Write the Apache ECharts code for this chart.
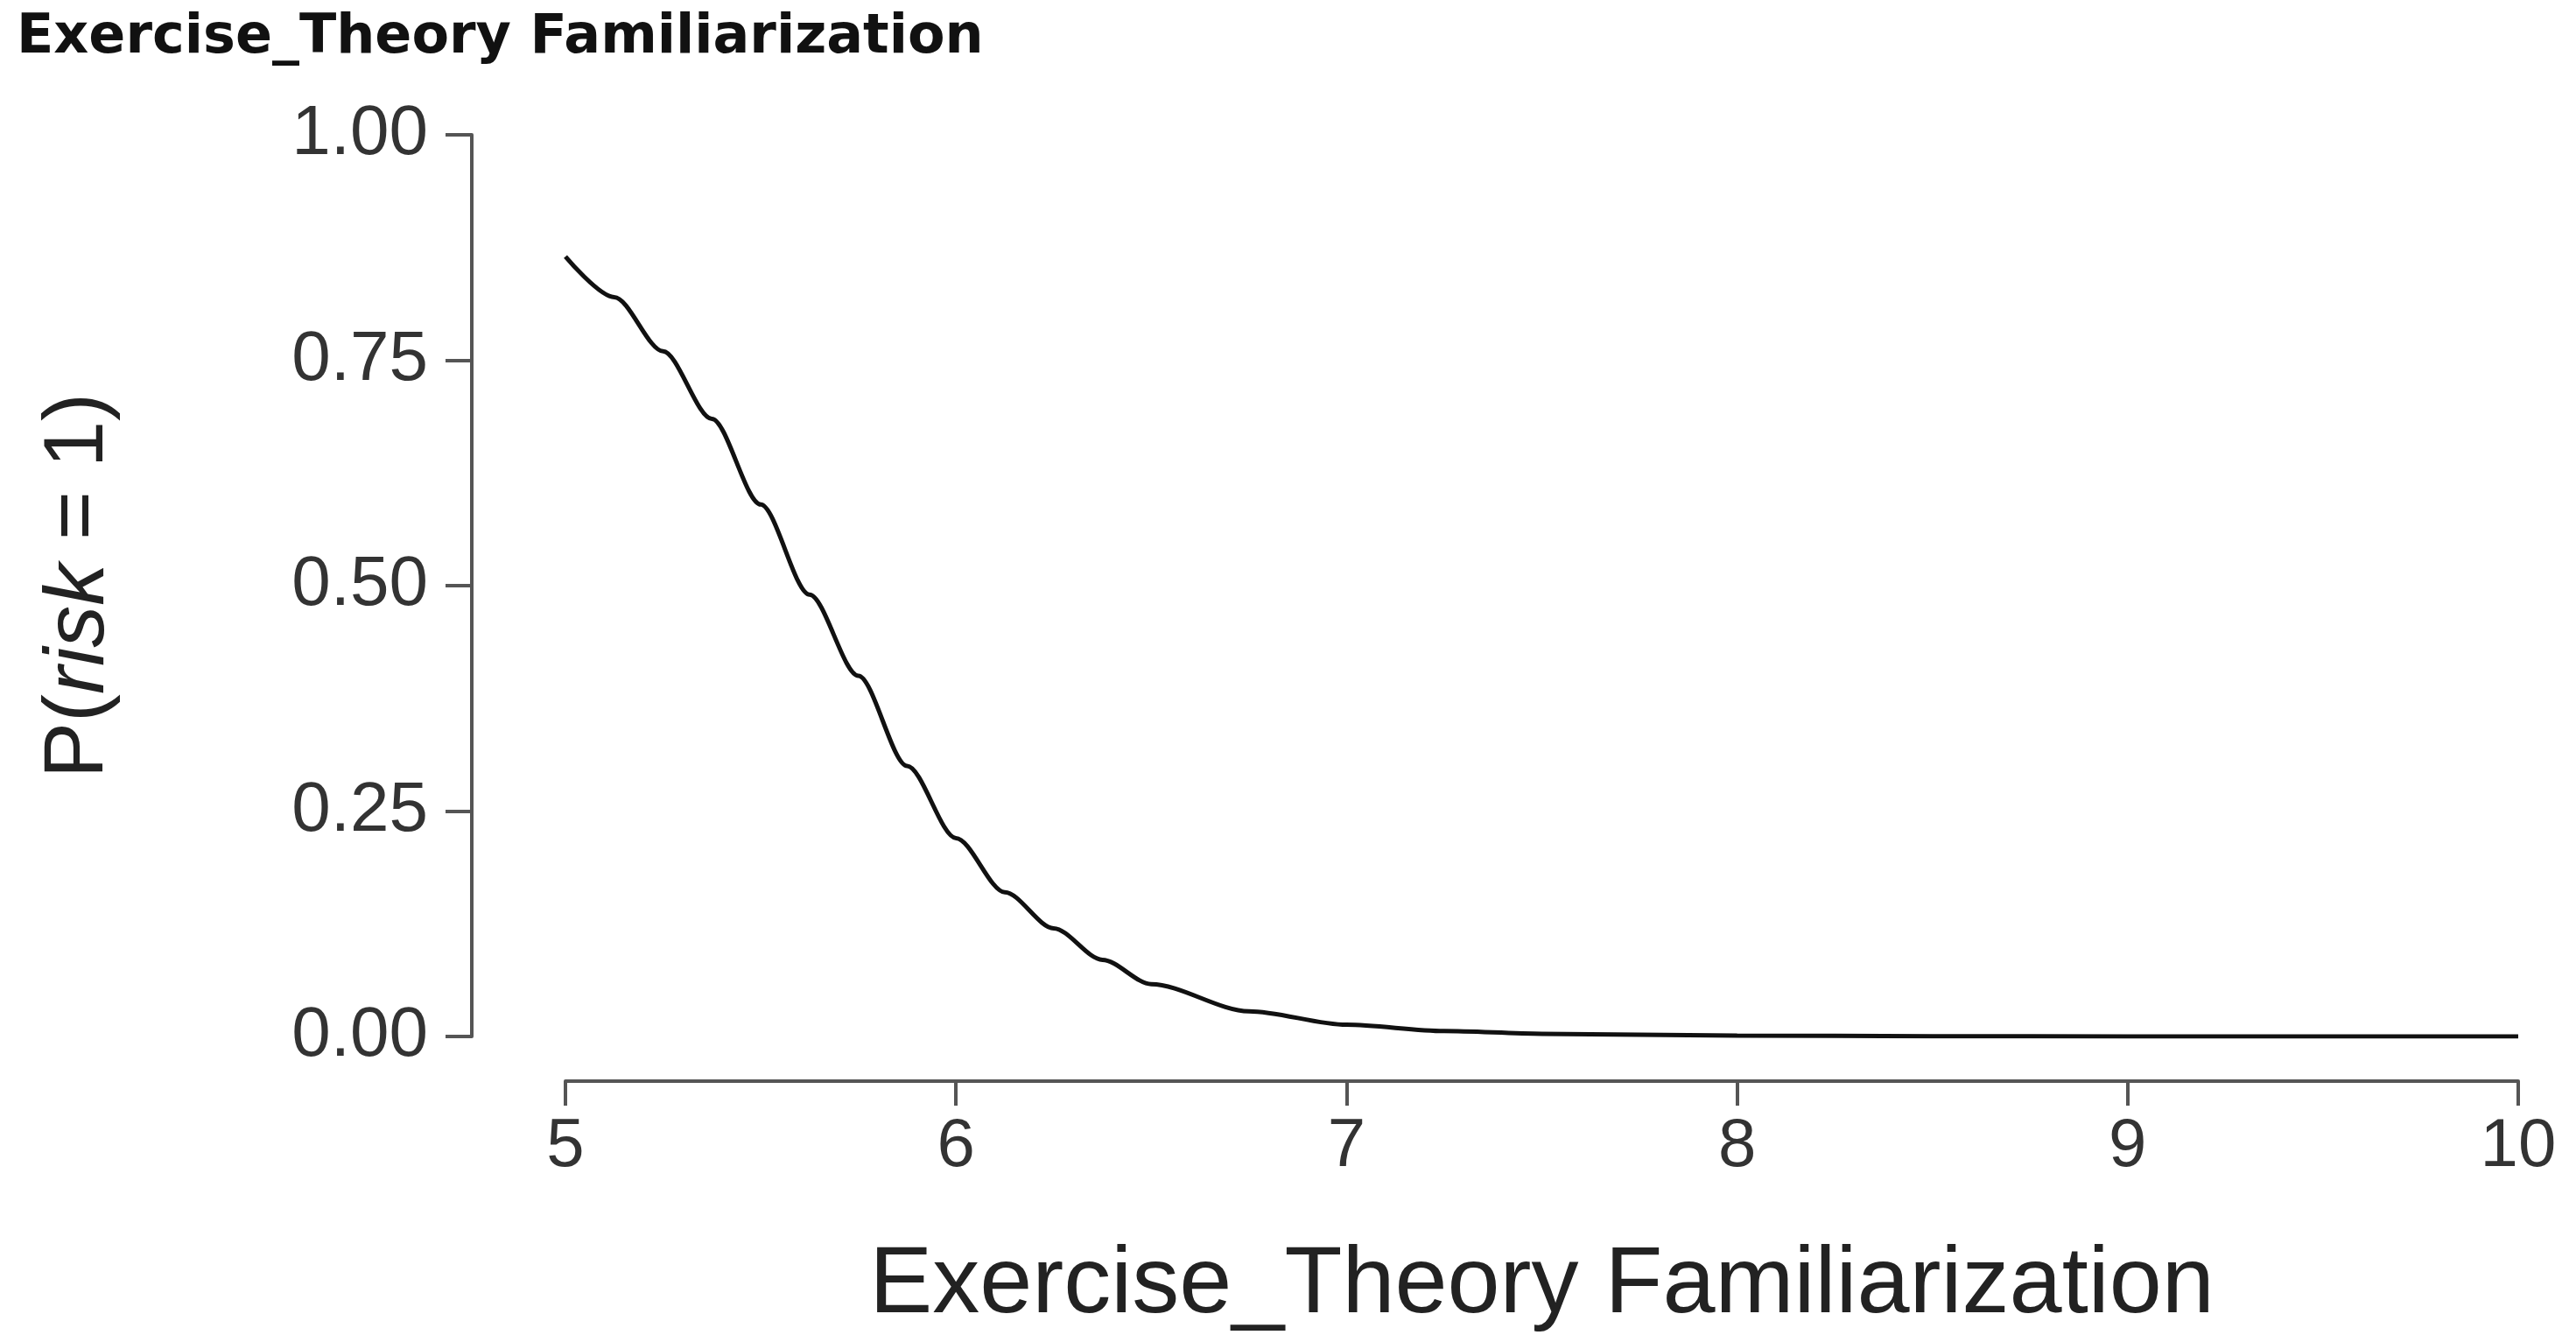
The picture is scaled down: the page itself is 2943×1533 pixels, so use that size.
<!DOCTYPE html>
<html><head><meta charset="utf-8">
<script src="https://cdn.jsdelivr.net/npm/echarts@6/dist/echarts.min.js"></script>
<style>html,body{margin:0;padding:0;background:#fff}#c{width:2943px;height:1533px}</style>
</head><body><div id="c"></div>
<script>
const titleText = 'Exercise_Theory Familiarization';
const xName = 'Exercise_Theory Familiarization';
const xValues = [5, 5.125, 5.25, 5.375, 5.5, 5.625, 5.75, 5.875, 6, 6.125, 6.25, 6.375, 6.5, 6.75, 7, 7.25, 7.5, 8, 8.5, 9, 10];
const pValues = [0.865, 0.82, 0.76, 0.685, 0.59, 0.49, 0.40, 0.30, 0.22, 0.16, 0.12, 0.085, 0.058, 0.028, 0.013, 0.006, 0.003, 0.001, 0.0003, 0.0001, 0];
const yTicks = [0, 0.25, 0.5, 0.75, 1];
const xTicks = [5, 6, 7, 8, 9, 10];

const axisCol = '#555';
const chart = echarts.init(document.getElementById('c'));
chart.setOption({
  backgroundColor: '#fff',
  animation: false,
  title: {text: titleText, left: 14, top: 8,
    textStyle: {fontFamily: 'DejaVu Sans', fontWeight: 'bold', fontSize: 62, color: '#111'}},
  grid: {left: 646, right: 66, top: 154, bottom: 349},
  xAxis: {
    type: 'value', min: 5, max: 10, interval: 1, offset: 51,
    name: xName, nameLocation: 'middle', nameGap: 180,
    nameTextStyle: {fontFamily: 'Liberation Sans', fontSize: 108, color: '#222'},
    axisLine: {show: true, onZero: false, lineStyle: {color: axisCol, width: 4}},
    axisTick: {show: true, length: 28, lineStyle: {color: axisCol, width: 4}},
    axisLabel: {fontFamily: 'Liberation Sans', fontSize: 78, color: '#333', margin: 36,
      formatter: v => xTicks.includes(v) ? String(v) : ''},
    splitLine: {show: false}
  },
  yAxis: {
    type: 'value', min: 0, max: 1, interval: 0.25, offset: 107,
    name: '{n|P(}{i|risk}{n| = 1)}', nameLocation: 'middle', nameGap: 400, nameRotate: 90,
    nameTextStyle: {rich: {
      n: {fontFamily: 'Liberation Sans', fontSize: 96, color: '#222'},
      i: {fontFamily: 'Liberation Sans', fontStyle: 'italic', fontSize: 96, color: '#222'}}},
    axisLine: {show: true, lineStyle: {color: axisCol, width: 4}},
    axisTick: {show: true, length: 30, lineStyle: {color: axisCol, width: 4}},
    axisLabel: {fontFamily: 'Liberation Sans', fontSize: 80, color: '#333', margin: 50,
      formatter: v => yTicks.includes(v) ? v.toFixed(2) : ''},
    splitLine: {show: false}
  },
  series: [{
    type: 'line', smooth: 0.3, smoothMonotone: 'x', symbol: 'none',
    data: xValues.map((x, i) => [x, pValues[i]]),
    lineStyle: {color: '#111', width: 5}
  }]
});
</script></body></html>
